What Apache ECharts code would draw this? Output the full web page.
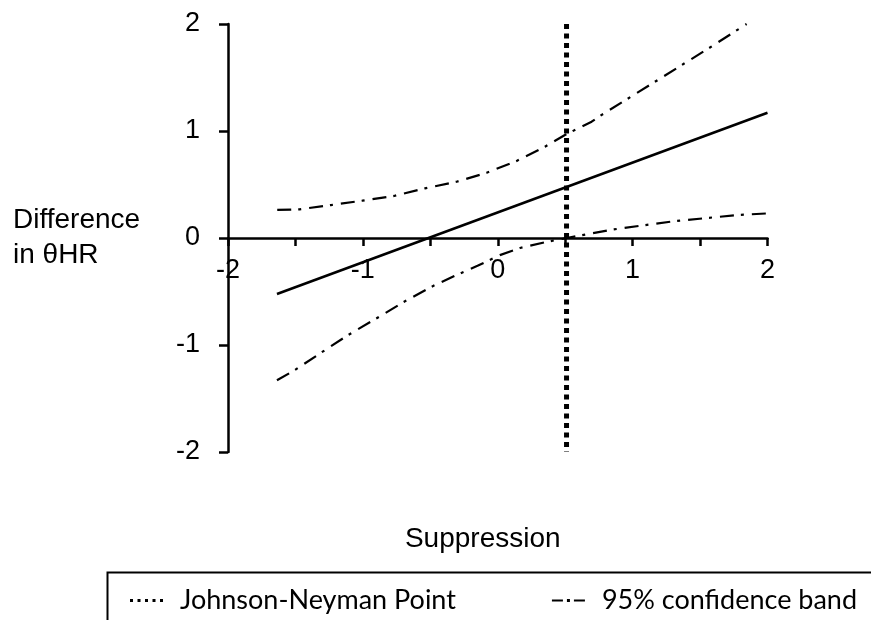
<!DOCTYPE html>
<html><head><meta charset="utf-8">
<script src="https://cdn.jsdelivr.net/npm/echarts@6/dist/echarts.min.js"></script>
<style>html,body{margin:0;padding:0;background:#fff}#c{width:871px;height:620px}</style>
</head><body><div id="c"></div>
<script>
// ---- data ----
const xAxisTitle = 'Suppression';
const yAxisTitle = 'Difference\nin θHR';
const legendNames = ['Johnson-Neyman Point', '95% confidence band'];

const estimateX = [-1.637, 2.0];
const estimateY = [-0.523, 1.17];

const upperX = [-1.635, -1.47, -1.236, -1.004, -0.769, -0.54, -0.305, -0.082, 0.14, 0.35, 0.498, 0.696, 0.757, 1.178, 1.573, 1.845];
const upperY = [0.262, 0.268, 0.308, 0.349, 0.393, 0.464, 0.526, 0.61, 0.72, 0.853, 0.963, 1.087, 1.14, 1.47, 1.78, 2.0];

const lowerX = [-1.637, -1.503, -1.305, -1.108, -0.898, -0.70, -0.49, -0.33, -0.15, 0.016, 0.165, 0.36, 0.51, 0.856, 1.326, 1.795, 2.0];
const lowerY = [-1.33, -1.233, -1.068, -0.906, -0.75, -0.60, -0.455, -0.36, -0.26, -0.16, -0.093, -0.037, 0.0, 0.08, 0.16, 0.216, 0.23];

const jnPointX = 0.51;
const jnSpanY = [2, -2];

const xRange = [-2, 2];
const yRange = [-2, 2];

// ---- build ----
const zip = (xs, ys) => xs.map((x, i) => [x, ys[i]]);
const tickFont = 'Liberation Sans, Arial, sans-serif';
const legendFont = 'Lato, Open Sans, sans-serif';
const ciDash = [14, 7, 3, 8];

const chart = echarts.init(document.getElementById('c'), null, {renderer: 'canvas'});
chart.setOption({
  animation: false,
  backgroundColor: '#ffffff',
  grid: {left: 228, right: 103.5, top: 24, bottom: 168, containLabel: false, outerBoundsMode: 'none'},
  xAxis: {
    type: 'value', min: xRange[0], max: xRange[1], interval: 0.5,
    name: xAxisTitle, nameLocation: 'middle', nameGap: 73,
    nameTextStyle: {fontFamily: tickFont, fontSize: 28, color: '#000', padding: [0, 30, 0, 0]},
    axisLine: {onZero: true, lineStyle: {color: '#000', width: 2.5}},
    axisTick: {show: true, inside: false, length: 8, lineStyle: {color: '#000', width: 2.5}},
    axisLabel: {
      margin: -195, fontFamily: tickFont, fontSize: 27, color: '#000',
      formatter: v => (Math.abs(v - Math.round(v)) < 1e-9 ? String(Math.round(v)) : '')
    },
    splitLine: {show: false}
  },
  yAxis: {
    type: 'value', min: yRange[0], max: yRange[1], interval: 1,
    name: yAxisTitle, nameLocation: 'middle', nameRotate: 0, nameGap: 215,
    nameTextStyle: {fontFamily: tickFont, fontSize: 28, lineHeight: 35, color: '#000', align: 'left'},
    axisLine: {onZero: false, lineStyle: {color: '#000', width: 2.5}},
    axisTick: {show: true, inside: false, length: 9, lineStyle: {color: '#000', width: 2.5}},
    axisLabel: {margin: 28, fontFamily: tickFont, fontSize: 27, color: '#000'},
    splitLine: {show: false}
  },
  legend: {
    left: 125, top: 582, itemWidth: 33, itemHeight: 3, itemGap: 96,
    textStyle: {fontFamily: legendFont, fontSize: 27, color: '#000', padding: [0, 0, 0, 12]},
    data: [
      {name: legendNames[0], icon: 'path://M0,0h3v3h-3z M7.5,0h3v3h-3z M15,0h3v3h-3z M22.5,0h3v3h-3z M30,0h3v3h-3z'},
      {name: legendNames[1], icon: 'path://M0,0.5h11v2h-11z M15,0h3v3h-3z M22,0.5h11v2h-11z'}
    ],
    selectedMode: false
  },
  graphic: [{
    type: 'rect', left: 105, top: 570, silent: true,
    shape: {width: 820, height: 100},
    style: {fill: 'none', stroke: '#000', lineWidth: 2}
  }],
  series: [
    {
      name: 'Estimate', type: 'line', data: zip(estimateX, estimateY),
      symbol: 'none', lineStyle: {color: '#000', width: 2.6}, itemStyle: {color: '#000'}
    },
    {
      name: legendNames[1], type: 'line', data: zip(upperX, upperY),
      symbol: 'none', lineStyle: {color: '#000', width: 2.2, type: ciDash}, itemStyle: {color: '#000'}
    },
    {
      name: legendNames[1], type: 'line', data: zip(lowerX, lowerY),
      symbol: 'none', lineStyle: {color: '#000', width: 2.2, type: ciDash}, itemStyle: {color: '#000'}
    },
    {
      name: legendNames[0], type: 'line', data: jnSpanY.map(y => [jnPointX, y]),
      symbol: 'none', lineStyle: {color: '#000', width: 5, type: [5, 4.5], cap: 'butt'}, itemStyle: {color: '#000'}
    }
  ]
});
</script>
</body></html>
